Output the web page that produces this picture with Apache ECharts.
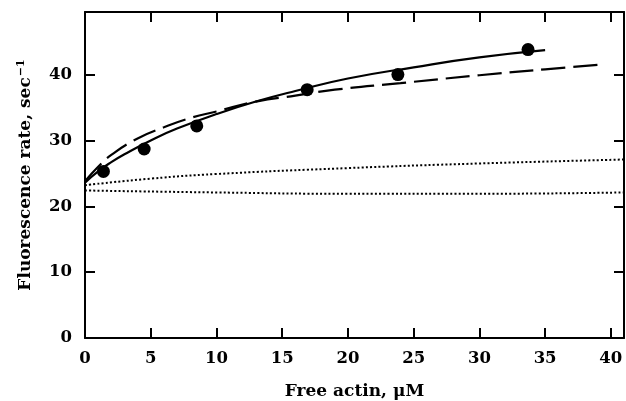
<!DOCTYPE html>
<html>
<head>
<meta charset="utf-8">
<script src="https://cdn.jsdelivr.net/npm/echarts@6/dist/echarts.min.js"></script>
<style>
  html, body { margin: 0; padding: 0; background: #fff; }
  #chart { width: 626px; height: 401px; }
</style>
</head>
<body>
<div id="chart"></div>
<script>
// measured points (free actin uM, fluorescence rate s^-1)
const pointX = [1.4, 4.5, 8.5, 16.9, 23.8, 33.7];
const pointY = [25.3, 28.7, 32.2, 37.7, 40.0, 43.8];

// solid fit
const solidX = [0, 1, 2, 3, 5, 7, 10, 13, 16, 20, 25, 30, 35];
const solidY = [23.6, 25.3, 26.7, 27.9, 30.0, 31.8, 34.0, 35.9, 37.5, 39.4, 41.1, 42.6, 43.7];

// dashed fit
const dashX = [0, 1, 2, 4, 6, 8, 10, 13, 16, 19, 24, 30, 35, 39.2];
const dashY = [23.8, 26.0, 27.8, 30.3, 32.0, 33.4, 34.4, 35.9, 36.8, 37.7, 38.7, 39.9, 40.8, 41.5];

// dotted curves
const dotUpX = [0, 5, 10, 20, 30, 41];
const dotUpY = [23.2, 24.2, 24.9, 25.8, 26.5, 27.1];
const dotLoX = [0, 10, 20, 30, 41];
const dotLoY = [22.4, 22.1, 21.9, 21.9, 22.1];

const xTicks = ['0', '5', '10', '15', '20', '25', '30', '35', '40'];
const yTicks = ['0', '10', '20', '30', '40'];

const pairs = (xs, ys) => xs.map((x, i) => [x, ys[i]]);

const font = 'DejaVu Serif';
const chart = echarts.init(document.getElementById('chart'));

const frameAxis = {
    axisLine: { show: true, onZero: false, lineStyle: { color: '#000', width: 2 } },
    axisTick: { show: true, inside: true, length: 10, lineStyle: { color: '#000', width: 2 } },
    splitLine: { show: false }
};

chart.setOption({
    animation: false,
    grid: { left: 85, right: 2, top: 12, bottom: 63, outerBoundsMode: 'none' },
    xAxis: [{
        type: 'value', min: 0, max: 41, interval: 5, position: 'bottom',
        name: 'Free actin, μM', nameLocation: 'middle', nameGap: 45,
        nameTextStyle: { fontFamily: font, fontWeight: 'bold', fontSize: 17, color: '#000' },
        axisLabel: {
            fontFamily: font, fontWeight: 'bold', fontSize: 16.5, color: '#000', margin: 12,
            formatter: (v) => xTicks[v / 5] || ''
        },
        ...frameAxis
    }, {
        type: 'value', min: 0, max: 41, interval: 5, position: 'top',
        axisLabel: { show: false },
        ...frameAxis
    }],
    yAxis: [{
        type: 'value', min: 0, max: 49.5, interval: 10, position: 'left',
        name: '{n|Fluorescence rate, sec}{s|−1}', nameLocation: 'middle', nameGap: 50,
        nameTextStyle: {
            rich: {
                n: { fontFamily: font, fontWeight: 'bold', fontSize: 17, color: '#000' },
                s: { fontFamily: font, fontWeight: 'bold', fontSize: 11, color: '#000', verticalAlign: 'top', padding: [0, 0, 8, 1] }
            }
        },
        axisLabel: {
            fontFamily: font, fontWeight: 'bold', fontSize: 16.5, color: '#000', margin: 13,
            showMaxLabel: false,
            formatter: (v) => yTicks[v / 10] || ''
        },
        ...frameAxis
    }, {
        type: 'value', min: 0, max: 49.5, interval: 10, position: 'right',
        axisLabel: { show: false },
        ...frameAxis
    }],
    series: [
        {
            type: 'line', data: pairs(dotUpX, dotUpY), smooth: true, symbol: 'none',
            lineStyle: { color: '#000', width: 2, type: [2, 2.2] }
        },
        {
            type: 'line', data: pairs(dotLoX, dotLoY), smooth: true, symbol: 'none',
            lineStyle: { color: '#000', width: 2, type: [2, 2.2] }
        },
        {
            type: 'line', data: pairs(dashX, dashY), smooth: true, symbol: 'none',
            lineStyle: { color: '#000', width: 2.2, type: [24, 8] }
        },
        {
            type: 'line', data: pairs(solidX, solidY), smooth: true, symbol: 'none',
            lineStyle: { color: '#000', width: 2.2 }
        },
        {
            type: 'scatter', data: pairs(pointX, pointY), symbol: 'circle', symbolSize: 13,
            itemStyle: { color: '#000', opacity: 1 }
        }
    ]
});
</script>
</body>
</html>
